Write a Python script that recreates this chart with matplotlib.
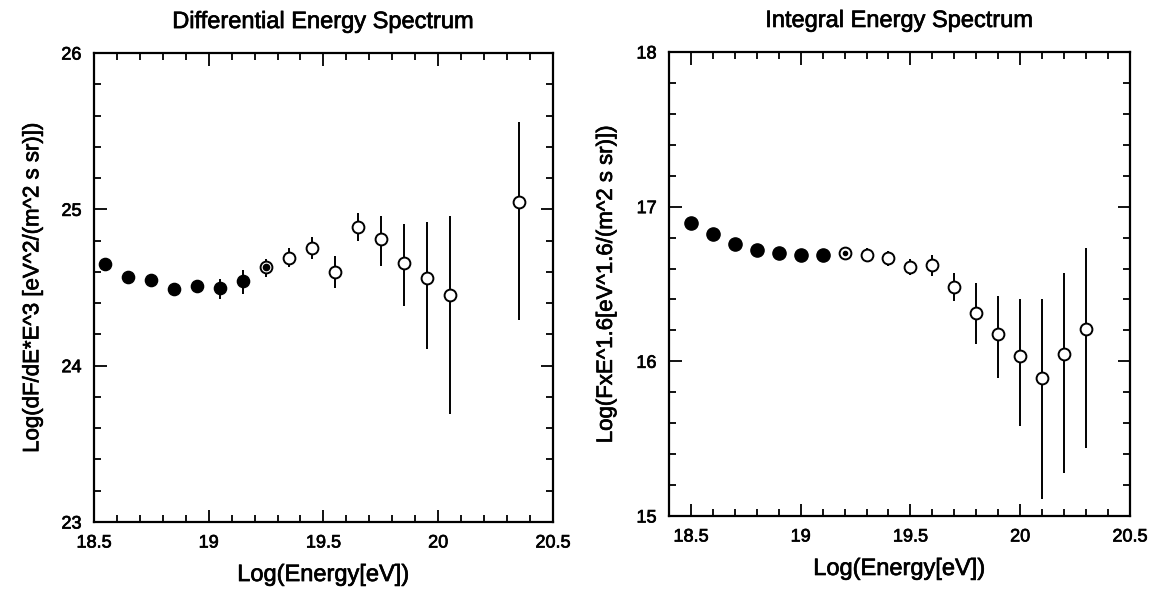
import numpy as np
import matplotlib
matplotlib.use('Agg')
import matplotlib.pyplot as plt
import matplotlib.patheffects as pe
from matplotlib.ticker import MultipleLocator

plt.rcParams['font.family'] = ['Liberation Sans', 'DejaVu Sans']
# scanned print look: slightly heavier text strokes
plt.rcParams['path.effects'] = []
thick = [pe.withStroke(linewidth=0.5, foreground='black')]

# Differential spectrum (left panel)
diff_x = [18.55, 18.65, 18.75, 18.85, 18.95, 19.05, 19.15, 19.25, 19.35,
          19.45, 19.55, 19.65, 19.75, 19.85, 19.95, 20.05, 20.35]
diff_y = [24.65, 24.57, 24.55, 24.49, 24.51, 24.495, 24.54, 24.63, 24.69,
          24.755, 24.60, 24.885, 24.81, 24.655, 24.56, 24.45, 25.05]
diff_err_lo = [0.02, 0.02, 0.02, 0.03, 0.04, 0.07, 0.08, 0.06, 0.06,
               0.07, 0.10, 0.09, 0.17, 0.27, 0.45, 0.76, 0.76]
diff_err_hi = [0.02, 0.02, 0.02, 0.03, 0.04, 0.06, 0.07, 0.05, 0.06,
               0.07, 0.10, 0.09, 0.15, 0.25, 0.36, 0.51, 0.51]
diff_group = ['filled'] * 7 + ['both'] + ['open'] * 9

# Integral spectrum (right panel)
int_x = [18.5, 18.6, 18.7, 18.8, 18.9, 19.0, 19.1, 19.2, 19.3, 19.4,
         19.5, 19.6, 19.7, 19.8, 19.9, 20.0, 20.1, 20.2, 20.3]
int_y = [16.895, 16.82, 16.76, 16.72, 16.70, 16.69, 16.69, 16.70, 16.69, 16.665,
         16.61, 16.62, 16.48, 16.315, 16.175, 16.035, 15.89, 16.05, 16.21]
int_err_lo = [0.01, 0.01, 0.01, 0.01, 0.01, 0.01, 0.01, 0.02, 0.04, 0.05,
              0.05, 0.07, 0.09, 0.20, 0.285, 0.45, 0.78, 0.77, 0.77]
int_err_hi = [0.01, 0.01, 0.01, 0.01, 0.01, 0.01, 0.01, 0.02, 0.04, 0.05,
              0.05, 0.07, 0.09, 0.19, 0.245, 0.37, 0.51, 0.52, 0.52]
int_group = ['filled'] * 7 + ['both'] + ['open'] * 11


def draw_panel(ax, x, y, lo, hi, group, ms_filled, dot_size):
    x = np.array(x)
    y = np.array(y)
    lo = np.array(lo)
    hi = np.array(hi)
    group = np.array(group)
    # error bars first, markers on top
    ax.errorbar(x, y, yerr=[lo, hi], fmt='none', ecolor='black',
                elinewidth=1.4, capsize=0, zorder=2)
    m = group == 'filled'
    ax.plot(x[m], y[m], 'o', ms=ms_filled, mfc='black', mec='black', zorder=3)
    m = group != 'filled'
    ax.plot(x[m], y[m], 'o', ms=8.5, mfc='white', mec='black', mew=1.4, zorder=3)
    m = group == 'both'
    ax.plot(x[m], y[m], 'o', ms=dot_size, mfc='black', mec='black', zorder=4)


def style_axes(ax, xlim, ylim):
    ax.set_xlim(*xlim)
    ax.set_ylim(*ylim)
    ax.xaxis.set_major_locator(MultipleLocator(0.5))
    ax.xaxis.set_minor_locator(MultipleLocator(0.1))
    ax.yaxis.set_major_locator(MultipleLocator(1))
    ax.yaxis.set_minor_locator(MultipleLocator(0.2))
    ax.xaxis.set_major_formatter(plt.FuncFormatter(lambda v, p: f'{v:g}'))
    ax.yaxis.set_major_formatter(plt.FuncFormatter(lambda v, p: f'{v:g}'))
    ax.tick_params(which='both', direction='in', top=True, right=True,
                   labelsize=13, width=1.3, pad=9)
    ax.tick_params(which='major', length=9)
    ax.tick_params(which='minor', length=5)
    for s in ax.spines.values():
        s.set_linewidth(1.6)
    for lab in ax.get_xticklabels() + ax.get_yticklabels():
        lab.set_path_effects(thick)
    ax.set_xlabel('Log(Energy[eV])', fontsize=17, labelpad=9,
                  path_effects=thick)


fig = plt.figure(figsize=(11.57, 5.92), dpi=100)
ax1 = fig.add_axes([0.0812, 0.1182, 0.3967, 0.7922])
ax2 = fig.add_axes([0.5782, 0.1284, 0.3984, 0.7838])

draw_panel(ax1, diff_x, diff_y, diff_err_lo, diff_err_hi, diff_group, 8.8, 4.5)
style_axes(ax1, (18.5, 20.5), (23, 26))
ax1.set_ylabel('Log(dF/dE*E^3 [eV^2/(m^2 s sr)])', fontsize=16, labelpad=13,
               path_effects=thick)
ax1.set_title('Differential Energy Spectrum', fontsize=17, pad=18,
              path_effects=thick)

draw_panel(ax2, int_x, int_y, int_err_lo, int_err_hi, int_group, 9.5, 3.0)
style_axes(ax2, (18.4, 20.5), (15, 18))
ax2.set_ylabel('Log(FxE^1.6[eV^1.6/(m^2 s sr)])', fontsize=16, labelpad=14,
               path_effects=thick)
ax2.set_title('Integral Energy Spectrum', fontsize=17, pad=18,
              path_effects=thick)

fig.savefig('out.png', dpi=100)
